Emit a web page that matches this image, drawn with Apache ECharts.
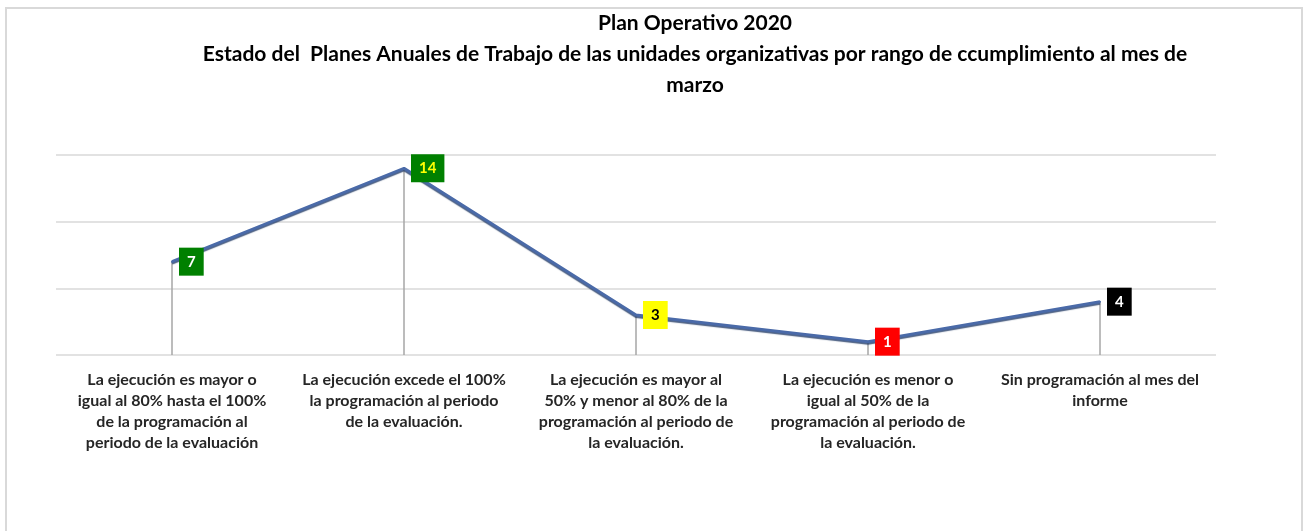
<!DOCTYPE html>
<html>
<head>
<meta charset="utf-8">
<script src="https://cdn.jsdelivr.net/npm/echarts@6/dist/echarts.min.js"></script>
<style>
  html, body { margin: 0; padding: 0; background: #fff; }
  #main { width: 1308px; height: 531px; }
</style>
</head>
<body>
<div id="main"></div>
<script>
var categories = [
    'La ejecución es mayor o\nigual al 80% hasta el 100%\nde la programación al\nperiodo de la evaluación',
    'La ejecución excede el 100%\nla programación al periodo\nde la evaluación.',
    'La ejecución es mayor al\n50% y menor al 80% de la\nprogramación al periodo de\nla evaluación.',
    'La ejecución es menor o\nigual al 50% de la\nprogramación al periodo de\nla evaluación.',
    'Sin programación al mes del\ninforme'
];
var values = [7, 14, 3, 1, 4];
var boxColors = ['#008000', '#008000', '#ffff00', '#ff0000', '#000000'];
var textColors = ['#ffffff', '#ffff00', '#000000', '#ffffff', '#ffffff'];

var lineData = values.map(function (v, i) {
    return {
        value: v,
        label: {
            backgroundColor: boxColors[i],
            color: textColors[i]
        }
    };
});

var option = {
    animation: false,
    title: {
        text: 'Plan Operativo 2020\nEstado del  Planes Anuales de Trabajo de las unidades organizativas por rango de ccumplimiento al mes de\nmarzo',
        left: 695,
        top: 8,
        textAlign: 'center',
        padding: 0,
        textStyle: {
            fontFamily: 'Lato',
            fontWeight: 'bold',
            fontSize: 21,
            lineHeight: 31,
            color: '#000'
        }
    },
    graphic: [{
        type: 'rect',
        shape: { x: 6, y: 8, width: 1296, height: 540 },
        style: { fill: 'none', stroke: '#d9d9d9', lineWidth: 2 },
        silent: true
    }],
    grid: { left: 56, right: 92, top: 155, bottom: 176 },
    xAxis: {
        type: 'category',
        data: categories,
        axisLine: { show: false },
        axisTick: { show: false },
        splitLine: { show: false },
        axisLabel: {
            interval: 0,
            margin: 14,
            fontFamily: 'Lato',
            fontWeight: 'bold',
            fontSize: 16,
            lineHeight: 21,
            color: '#262626'
        }
    },
    yAxis: {
        type: 'value',
        min: 0,
        max: 15,
        interval: 5,
        axisLabel: { show: false },
        axisLine: { show: false },
        axisTick: { show: false },
        splitLine: { lineStyle: { color: '#d9d9d9', width: 1.5 } }
    },
    series: [{
        type: 'bar',
        data: values,
        barWidth: 1.5,
        itemStyle: { color: '#a6a6a6' },
        silent: true,
        z: 1
    }, {
        type: 'line',
        data: lineData,
        symbol: 'circle',
        symbolSize: 2,
        itemStyle: { color: '#4a6aa8' },
        z: 3,
        lineStyle: {
            color: '#4a6aa8',
            width: 3,
            shadowColor: 'rgba(31,56,100,0.8)',
            shadowBlur: 1,
            shadowOffsetY: 1.5
        },
        label: {
            show: true,
            position: 'right',
            distance: 6,
            fontFamily: 'Lato',
            fontWeight: 'bold',
            fontSize: 15,
            padding: [7, 8, 6, 8]
        }
    }]
};

var myChart = echarts.init(document.getElementById('main'));
myChart.setOption(option);
</script>
</body>
</html>
